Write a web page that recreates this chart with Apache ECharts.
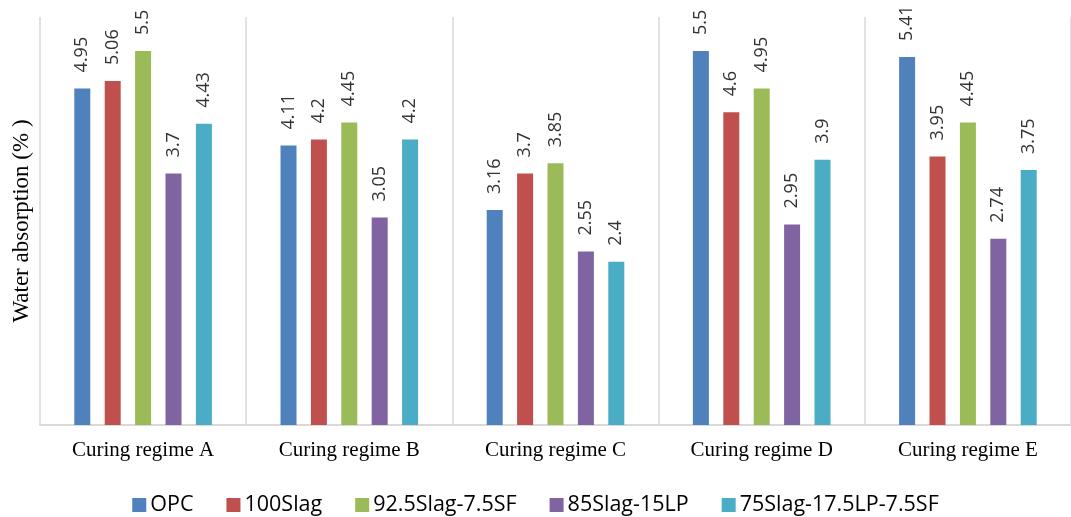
<!DOCTYPE html>
<html><head><meta charset="utf-8">
<script src="https://cdn.jsdelivr.net/npm/echarts@6/dist/echarts.min.js"></script>
<style>html,body{margin:0;padding:0;background:#fff}#c{width:1071px;height:517px}</style>
</head><body><div id="c"></div>
<script>
const categories = ['Curing regime A','Curing regime B','Curing regime C','Curing regime D','Curing regime E'];
const seriesNames = ['OPC','100Slag','92.5Slag-7.5SF','85Slag-15LP','75Slag-17.5LP-7.5SF'];
const OPC = [4.95, 4.11, 3.16, 5.5, 5.41];
const Slag100 = [5.06, 4.2, 3.7, 4.6, 3.95];
const Slag92SF = [5.5, 4.45, 3.85, 4.95, 4.45];
const Slag85LP = [3.7, 3.05, 2.55, 2.95, 2.74];
const Slag75LPSF = [4.43, 4.2, 2.4, 3.9, 3.75];
const seriesData = [OPC, Slag100, Slag92SF, Slag85LP, Slag75LPSF];
const colors = ['#4F81BD','#C0504D','#9BBB59','#8064A2','#4BACC6'];

const chart = echarts.init(document.getElementById('c'));
chart.setOption({
  animation: false,
  grid: {left: 40, right: 0, top: 17, bottom: 92, containLabel: false},
  legend: {
    top: 489, left: 'center', itemWidth: 14, itemHeight: 14, itemGap: 33,
    icon: 'rect',
    textStyle: {fontFamily: 'Open Sans', fontSize: 21.5, color: '#000', padding: [0,0,0,-1]}
  },
  xAxis: {
    type: 'category', data: categories,
    axisLine: {show: true, lineStyle: {color: '#d9d9d9', width: 2}},
    axisTick: {show: false},
    splitLine: {show: true, lineStyle: {color: '#d9d9d9', width: 1.5}},
    axisLabel: {fontFamily: 'Liberation Serif', fontSize: 21, color: '#000', margin: 15}
  },
  yAxis: {
    type: 'value', min: 0, max: 6,
    name: 'Water absorption (% )', nameLocation: 'middle', nameGap: 7,
    nameTextStyle: {fontFamily: 'Liberation Serif', fontSize: 23, color: '#000'},
    axisLine: {show: false}, axisTick: {show: false}, axisLabel: {show: false},
    splitLine: {show: false}
  },
  series: seriesNames.map((n, i) => ({
    name: n, type: 'bar', data: seriesData[i],
    barWidth: 16, barGap: '90%',
    itemStyle: {color: colors[i]},
    label: {
      show: true, position: 'top', rotate: 90, align: 'left', verticalAlign: 'middle',
      distance: 16, fontFamily: 'Open Sans', fontSize: 18, color: '#333'
    }
  }))
});
</script></body></html>
